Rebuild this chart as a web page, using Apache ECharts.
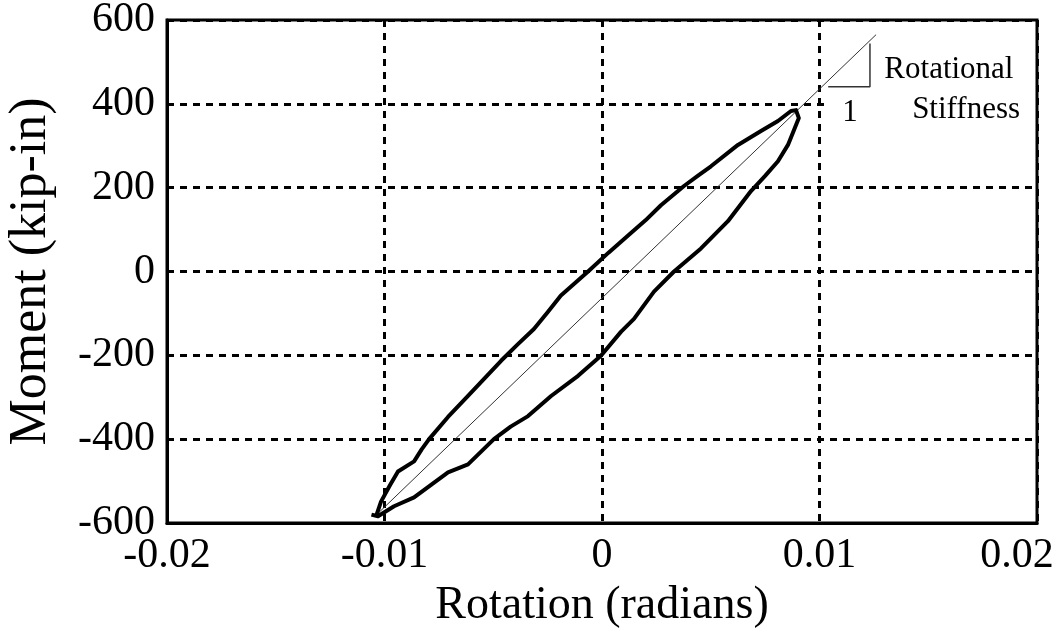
<!DOCTYPE html>
<html>
<head>
<meta charset="utf-8">
<script src="https://cdn.jsdelivr.net/npm/echarts@6/dist/echarts.min.js"></script>
<style>
html,body{margin:0;padding:0;background:#fff;}
#chart{width:1059px;height:628px;}
</style>
</head>
<body>
<div id="chart"></div>
<script>
// Hysteresis loop: upper (loading) branch then lower (unloading) branch, [rotation, moment]
var upperBranch = [
  [-0.01039,-584],[-0.01016,-549],[-0.00975,-510],[-0.00938,-477],[-0.00864,-453],
  [-0.00830,-425],[-0.00795,-400],[-0.00708,-347],[-0.00616,-297],[-0.00540,-255],
  [-0.00464,-213],[-0.00390,-175],[-0.00313,-137],[-0.00250,-97],[-0.00189,-57],
  [-0.00064,0],[0.00030,45],[0.00120,86],[0.00200,122],[0.00271,158],
  [0.00377,204],[0.00440,228],[0.00501,251],[0.00625,302],[0.00731,335],
  [0.00809,359],[0.00869,383],[0.00892,385],[0.00905,366]
];
var lowerBranch = [
  [0.00855,302],[0.00809,263],[0.00750,228],[0.00685,192],[0.00579,120],
  [0.00455,55],[0.00331,0],[0.00239,-48],[0.00147,-113],[0.00087,-144],
  [-0.00005,-201],[-0.00110,-249],[-0.00234,-297],[-0.00340,-345],[-0.00420,-370],
  [-0.00497,-400],[-0.00616,-460],[-0.00708,-479],[-0.00864,-539],[-0.00956,-560],
  [-0.01030,-584],[-0.01060,-580]
];
// Rotational stiffness line
var stiffnessLine = [[-0.01044,-584],[0.0126,565]];
// Slope triangle
var slopeTriangle = [[0.0104,441],[0.01232,441],[0.01232,544]];
// White annotation box corners
var annotationBox = [[0.01034,354],[0.0198,594]];
// Annotation labels [x, y, text]
var annotations = [
  [0.01595,480,'Rotational'],
  [0.01674,385,'Stiffness'],
  [0.0114,378,'1']
];
var xTicks = [-0.02,-0.01,0,0.01,0.02];
var yTicks = [-600,-400,-200,0,200,400,600];

var loopData = upperBranch.concat(lowerBranch);
var font = '"Liberation Serif","Times New Roman",serif';

var chart = echarts.init(document.getElementById('chart'), null, {renderer:'canvas'});
chart.setOption({
  backgroundColor:'#fff',
  animation:false,
  grid:{left:167,right:22,top:20,bottom:105,containLabel:false,outerBoundsMode:'none',
        show:true,borderColor:'#000',borderWidth:3,backgroundColor:'transparent'},
  xAxis:{
    type:'value',min:xTicks[0],max:xTicks[xTicks.length-1],interval:0.01,
    name:'Rotation (radians)',nameLocation:'middle',nameGap:60,nameMoveOverlap:false,
    nameTextStyle:{fontFamily:font,fontSize:46,color:'#000'},
    axisLine:{show:true,onZero:false,lineStyle:{color:'#000',width:3}},
    axisTick:{show:false},
    axisLabel:{fontFamily:font,fontSize:42,color:'#000',margin:12,
      formatter:function(v){
        var s = String(Math.round(v*100)/100);
        return v >= xTicks[xTicks.length-1] - 1e-9 ? '{r|' + s + '}' : s;
      },
      rich:{r:{fontFamily:font,fontSize:42,color:'#000',padding:[0,40,0,0]}}},
    splitLine:{show:true,lineStyle:{color:'#000',width:3,type:[7,6]}}
  },
  yAxis:{
    type:'value',min:yTicks[0],max:yTicks[yTicks.length-1],interval:200,
    name:'Moment (kip-in)',nameLocation:'middle',nameGap:110,
    nameTextStyle:{fontFamily:font,fontSize:52,color:'#000'},
    axisLine:{show:true,onZero:false,lineStyle:{color:'#000',width:3}},
    axisTick:{show:false},
    axisLabel:{fontFamily:font,fontSize:42,color:'#000',margin:12},
    splitLine:{show:true,lineStyle:{color:'#000',width:3,type:[7,6]}}
  },
  series:[
    {type:'line',data:slopeTriangle,showSymbol:false,symbol:'none',
     lineStyle:{color:'#333',width:1.5},z:3,
     markArea:{silent:true,itemStyle:{color:'#fff',opacity:1},
       data:[[{coord:annotationBox[0]},{coord:annotationBox[1]}]]}},
    {type:'line',data:stiffnessLine,showSymbol:false,symbol:'none',
     lineStyle:{color:'#333',width:1},z:4},
    {type:'line',data:loopData,showSymbol:false,symbol:'none',smooth:false,
     lineStyle:{color:'#000',width:4,join:'round'},z:5}
  ]
});
// Annotation texts positioned through the axes' own scales
var g = annotations.map(function(a){
  var p = chart.convertToPixel({gridIndex:0},[a[0],a[1]]);
  return {type:'text',x:p[0],y:p[1],z:10,
    style:{text:a[2],fill:'#000',font:'31px '+font,align:'center',verticalAlign:'middle'}};
});
chart.setOption({graphic:g});
</script>
</body>
</html>
